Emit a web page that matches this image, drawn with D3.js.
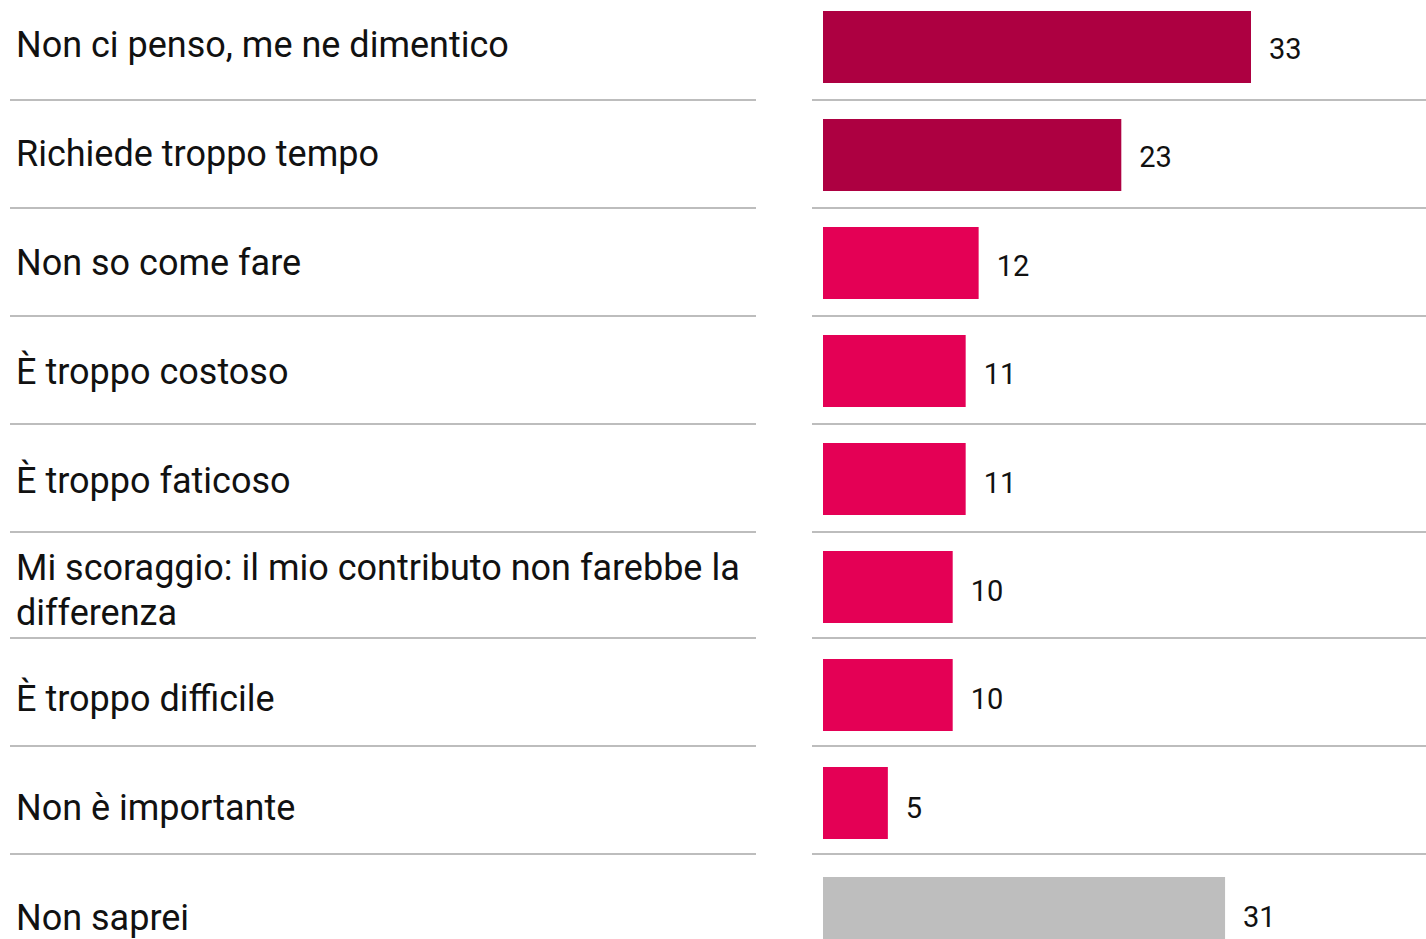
<!DOCTYPE html>
<html><head><meta charset="utf-8">
<script src="https://cdn.jsdelivr.net/npm/d3@7"></script>
<style>html,body{margin:0;padding:0;background:#fff;overflow:hidden}</style>
</head><body>
<svg id="chart" width="1426" height="939"></svg>
<script>
const categories = ["Non ci penso, me ne dimentico","Richiede troppo tempo","Non so come fare","È troppo costoso","È troppo faticoso","Mi scoraggio: il mio contributo non farebbe la differenza","È troppo difficile","Non è importante","Non saprei"];
const values = [33,23,12,11,11,10,10,5,31];
const groups = ["top","top","other","other","other","other","other","other","none"];
const colorMap = {top:"#AD0041", other:"#E40055", none:"#BEBEBE"};

const svg = d3.select("#chart");
const font = "Roboto, 'Open Sans', sans-serif";
const y = d3.scaleBand().domain(categories).range([-8, -8 + 108*categories.length]).paddingInner(0);
const x = d3.scaleLinear().domain([0, 33]).range([823, 1251]);
const last = categories.length - 1;

const rows = svg.selectAll("g.row").data(categories).join("g").attr("class","row")
  .attr("transform", d => `translate(0,${y(d)})`);

// separators
rows.filter((d,i)=> i < last).each(function(d,i){
  const g = d3.select(this);
  const off = i >= 5 ? -2 : 0;
  g.append("line").attr("x1",10).attr("x2",756).attr("y1",108+off).attr("y2",108+off).attr("stroke","#BDBDBD").attr("stroke-width",2);
  g.append("line").attr("x1",812).attr("x2",1426).attr("y1",108+off).attr("y2",108+off).attr("stroke","#BDBDBD").attr("stroke-width",2);
});

rows.append("rect")
  .attr("x", x(0))
  .attr("y", (d,i)=> 19 + (i===last ? 2 : 0))
  .attr("height", 72)
  .attr("width", (d,i)=> x(values[i]) - x(0))
  .attr("fill", (d,i)=> colorMap[groups[i]]);

rows.append("text")
  .attr("x", (d,i)=> x(values[i]) + 18)
  .attr("y", (d,i)=> 67 + Math.round(i*0.4) + (i===last ? 1 : 0))
  .attr("font-family", font).attr("font-size", 29).attr("fill","#111")
  .text((d,i)=> values[i]);

// labels with wrapping
rows.each(function(d,i){
  const g = d3.select(this);
  const t = g.append("text").attr("font-family", font).attr("font-size", 36).attr("fill","#111").attr("x",16);
  if (d.length > 40) {
    const words = d.split(" ");
    const l1 = words.slice(0, words.length-1).join(" ");
    const l2 = words[words.length-1];
    t.append("tspan").attr("x",16).attr("y",48).text(l1);
    t.append("tspan").attr("x",16).attr("y",93).text(l2);
  } else {
    t.attr("y", i===last ? 74 : 65 + i).text(d);
  }
});
</script>
</body></html>
